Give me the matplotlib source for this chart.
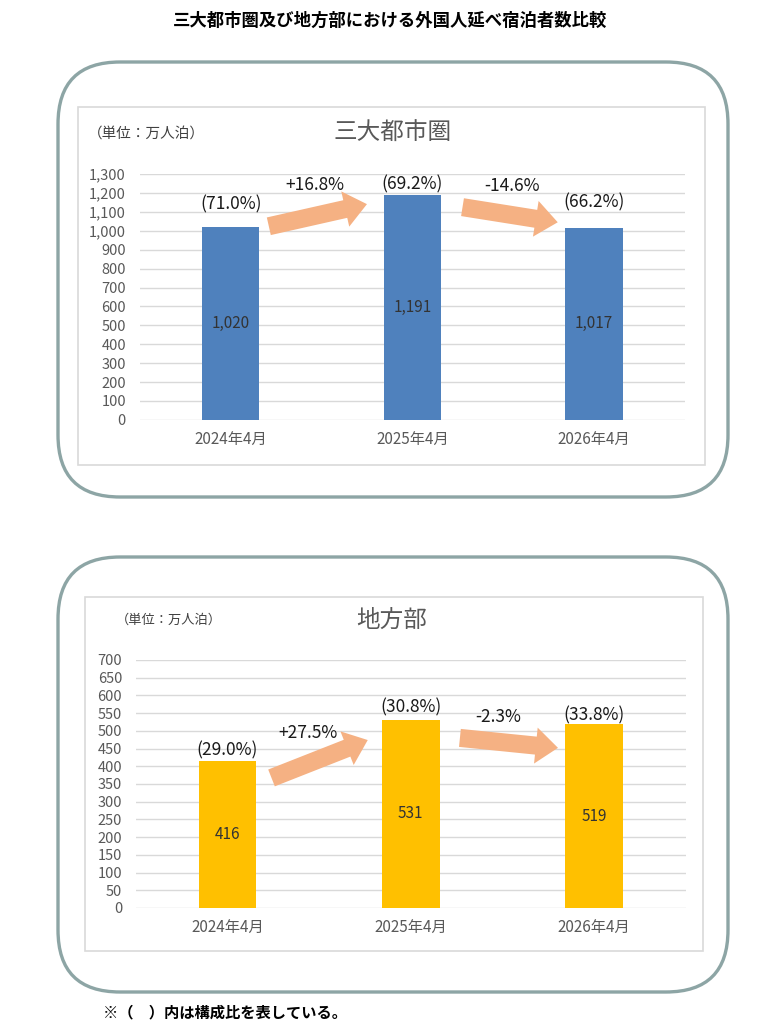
import matplotlib.pyplot as plt
from matplotlib.patches import FancyBboxPatch, Rectangle

plt.rcParams['font.family'] = ['Noto Sans CJK JP', 'DejaVu Sans']

months = ['2024年4月', '2025年4月', '2026年4月']

city_values = [1020, 1191, 1017]
city_share = ['(71.0%)', '(69.2%)', '(66.2%)']
city_share_y = [1141, 1247, 1151]
city_change = ['+16.8%', '-14.6%']

local_values = [416, 531, 519]
local_share = ['(29.0%)', '(30.8%)', '(33.8%)']
local_share_y = [446, 567, 545]
local_change = ['+27.5%', '-2.3%']

fig = plt.figure(figsize=(7.81, 10.24), dpi=100)
inch = fig.dpi_scale_trans

# outer rounded frames + inner chart panels (inches), kept behind the axes
for y0, h in [(5.27, 4.35), (0.32, 4.35)]:
    fig.patches.append(FancyBboxPatch((0.58, y0), 6.70, h, boxstyle='round,pad=0,rounding_size=0.62',
                                      transform=inch, fc='white', ec='#8da5a5', lw=2.4, zorder=-2))
fig.patches.append(Rectangle((0.78, 5.59), 6.27, 3.58, transform=inch, fc='white', ec='#d9d9d9',
                             lw=1.2, zorder=-1))
fig.patches.append(Rectangle((0.85, 0.73), 6.18, 3.54, transform=inch, fc='white', ec='#d9d9d9',
                             lw=1.2, zorder=-1))

fig.text(0.5, 0.980, '三大都市圏及び地方部における外国人延べ宿泊者数比較', ha='center', va='center',
         fontsize=12.5, fontweight='bold', color='black')
fig.text(0.132, 0.011, '※（　）内は構成比を表している。', ha='left', va='center', fontsize=11,
         fontweight='bold', color='black')


def draw(ax, values, color, ymax, step, shares, share_y, changes, arrows, change_pos):
    x = range(len(values))
    ax.bar(x, values, width=0.315, color=color, zorder=3)
    ax.set_xlim(-0.5, 2.5)
    ax.set_ylim(0, ymax)
    ax.set_yticks(range(0, ymax + 1, step))
    ax.set_yticklabels([f'{v:,}' for v in range(0, ymax + 1, step)])
    ax.set_xticks(list(x))
    ax.set_xticklabels(months)
    ax.tick_params(length=0, labelcolor='#595959')
    ax.tick_params(axis='y', pad=10, labelsize=10.5)
    ax.tick_params(axis='x', pad=8, labelsize=11)
    ax.grid(axis='y', color='#d9d9d9', lw=1, zorder=0)
    for s in ax.spines.values():
        s.set_visible(False)
    ax.patch.set_alpha(0)
    for i, v in enumerate(values):
        ax.text(i, v / 2, f'{v:,}', ha='center', va='center', fontsize=11, color='#333333', zorder=4)
        ax.text(i, share_y[i], shares[i], ha='center', va='center', fontsize=12.5, color='#1a1a1a', zorder=4)
    for (x0, y0, x1, y1) in arrows:
        ax.annotate('', xy=(x1, y1), xytext=(x0, y0),
                    arrowprops=dict(arrowstyle='simple,head_width=1.3,head_length=0.8,tail_width=0.65',
                                    mutation_scale=20, fc='#f5b183', ec='none', shrinkA=0, shrinkB=0),
                    zorder=4)
    for lab, (cx, cy) in zip(changes, change_pos):
        ax.text(cx, cy, lab, ha='center', va='center', fontsize=12.5, color='#1a1a1a', zorder=4)


ax1 = fig.add_axes([0.179, 0.590, 0.698, 0.240])
draw(ax1, city_values, '#4f81bd', 1300, 100, city_share, city_share_y, city_change,
     [(0.21, 1024, 0.75, 1141), (1.276, 1125, 1.80, 1045)],
     [(0.464, 1242), (1.547, 1236)])
fig.text(0.503, 0.870, '三大都市圏', ha='center', va='center', fontsize=17, color='#595959')
fig.text(0.113, 0.870, '（単位：万人泊）', ha='left', va='center', fontsize=10.5, color='#404040')

ax2 = fig.add_axes([0.174, 0.1133, 0.704, 0.2422])
draw(ax2, local_values, '#ffc000', 700, 50, local_share, local_share_y, local_change,
     [(0.24, 367, 0.765, 474), (1.268, 480, 1.803, 452)],
     [(0.437, 494), (1.475, 539)])
fig.text(0.502, 0.394, '地方部', ha='center', va='center', fontsize=17, color='#595959')
fig.text(0.148, 0.394, '（単位：万人泊）', ha='left', va='center', fontsize=9.5, color='#404040')

fig.savefig('out.png', dpi=100)
